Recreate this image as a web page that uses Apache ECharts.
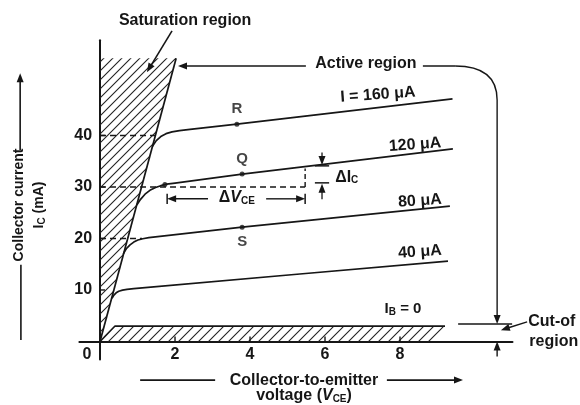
<!DOCTYPE html>
<html><head><meta charset="utf-8">
<script src="https://cdn.jsdelivr.net/npm/echarts@6/dist/echarts.min.js"></script>
<style>html,body{margin:0;padding:0;background:#fff}#c{width:580px;height:405px}</style>
</head><body><div id="c"></div>
<script>
// ---------- data (VCE in volts, IC in mA) ----------
const xTicks = [2, 4, 6, 8];
const yTicks = [10, 20, 30, 40];
const originLabel = '0';
const ib160 = [[1.39,37.8],[1.5,39.0],[1.62,39.8],[1.76,40.35],[1.92,40.7],[2.12,40.95],[2.4,41.2],[3.65,42.2],[9.4,47.1]];
const ib120 = [[0.98,26.5],[1.08,27.6],[1.2,28.6],[1.33,29.35],[1.48,29.9],[1.62,30.25],[1.78,30.55],[2.0,30.75],[3.79,32.5],[9.41,37.4]];
const ib80  = [[0.62,17.0],[0.7,18.0],[0.8,18.75],[0.9,19.3],[1.01,19.7],[1.14,19.95],[1.3,20.15],[3.79,22.2],[9.33,26.3]];
const ib40  = [[0.32,8.4],[0.37,9.0],[0.43,9.45],[0.5,9.75],[0.6,9.97],[0.72,10.1],[0.9,10.25],[5.33,13.1],[9.28,15.6]];
const curveNames = ['I = 160 μA', '120 μA', '80 μA', '40 μA', 'I{s|B} = 0'];
const opPoints = [['R',3.65,42.2],['Q',3.79,32.5],['S',3.79,22.2]];
const kneePoint = [[1.73,30.5]];
const satBoundary = [[0,0],[2.03,55]];
const satRegion = [[0,0],[0,55],[2.03,55]];
const cutoffLevel = 3.0;
const cutoffRegion = [[0,0],[0.4,3.0],[9.2,3.0],[8.9,0]];
const dashLevels = [[40,1.5],[30,5.47],[20,1.12]];
const dVce = [1.79, 5.47, 27.7];      // from, to, at IC
const dIc = [30.8, 34.1, 5.92];       // low, high, at VCE

// ---------- styles ----------
const ink = '#161616';
const F = '"Liberation Sans", Arial, sans-serif';
const RICH = {
  s: {fontSize: 10, fontWeight: 'bold', fontFamily: F, fill: ink, padding: [7,0,0,0]},
  i: {fontSize: 16, fontWeight: 'bold', fontStyle: 'italic', fontFamily: F, fill: ink}
};
function hatch(step){
  const cv = document.createElement('canvas');
  cv.width = cv.height = step;
  const g = cv.getContext('2d');
  g.strokeStyle = '#222'; g.lineWidth = 1.1;
  g.beginPath();
  g.moveTo(0, step); g.lineTo(step, 0);
  g.moveTo(-step/2, step/2); g.lineTo(step/2, -step/2);
  g.moveTo(step/2, step*1.5); g.lineTo(step*1.5, step/2);
  g.stroke();
  return {image: cv, repeat: 'repeat'};
}
const HATCH = hatch(9);
const HATCH2 = hatch(10);

function renderAnno(params, api){
  const c = p => api.coord(p);
  const kids = [];
  const poly = (pts, fill) => kids.push({type:'polygon', shape:{points: pts.map(c)}, style:{fill: fill, stroke: null}});
  const seg = (p, q, w, dash) => kids.push({type:'line', shape:{x1:p[0],y1:p[1],x2:q[0],y2:q[1]}, style:{stroke:ink, lineWidth:w||1.5, lineDash:dash||null}});
  const line = (a, b, w, dash) => seg(c(a), c(b), w, dash);
  const arrow = (a, b, w) => {
    const p=c(a), q=c(b); const dx=q[0]-p[0], dy=q[1]-p[1]; const L=Math.hypot(dx,dy); const ux=dx/L, uy=dy/L;
    const hl=9, hw=3.5; const bx=q[0]-ux*hl, by=q[1]-uy*hl;
    seg(p, [bx+ux, by+uy], w);
    kids.push({type:'polygon', shape:{points:[[q[0],q[1]],[bx-uy*hw,by+ux*hw],[bx+uy*hw,by-ux*hw]]}, style:{fill:ink}});
  };
  const bar = (x, y, h) => { line([x, y-h], [x, y+h], 1.5); };
  const text = (t, p, o) => { o = o||{}; const q=c(p); kids.push({type:'text', x:q[0], y:q[1], rotation:o.rot||0,
    style:{text:t, fill:ink, fontSize:o.size||16, fontWeight:'bold', fontFamily:F, align:o.align||'center', verticalAlign:'middle', rich:RICH}}); };

  // hatched regions
  poly(satRegion, HATCH);
  poly(cutoffRegion, HATCH2);

  // axis ticks and tick labels
  xTicks.forEach(t => { const p=c([t,0]); seg(p, [p[0], p[1]-5], 1.4); text(String(t), [t, -2.6]); });
  yTicks.forEach(t => { const p=c([0,t]); seg(p, [p[0]+5, p[1]], 1.4); text(String(t), [-0.21, t], {align:'right'}); });
  text(originLabel, [-0.35, -2.6]);

  // dashed guide lines
  dashLevels.forEach(d => line([0, d[0]], [d[1], d[0]], 1.4, [6,4]));
  line([dVce[1], 30], [dVce[1], 33.6], 1.4, [5,3]);

  // saturation label + arrow
  text('Saturation region', [2.27, 62.4]);
  arrow([1.92, 60.3], [1.25, 52.3], 1.6);

  // active region label + arrows
  text('Active region', [7.09, 53.9]);
  arrow([5.49, 53.5], [2.08, 53.5], 1.4);
  { const a=c([8.61,53.5]), b=c([9.47,53.5]), k=c([10.59,53.5]), d=c([10.59,46.9]);
    seg(a, b, 1.4);
    kids.push({type:'bezierCurve', shape:{x1:b[0],y1:b[1],cpx1:k[0],cpy1:k[1],x2:d[0],y2:d[1]}, style:{stroke:ink,lineWidth:1.4,fill:null}}); }
  arrow([10.59, 46.9], [10.59, cutoffLevel + 0.4], 1.4);

  // cut-off marker
  line([9.55, cutoffLevel + 0.4], [10.99, cutoffLevel + 0.4], 1.4);
  arrow([10.59, -2.9], [10.59, 0], 1.4);
  arrow([11.39, 3.8], [10.69, 2.2], 1.4);
  text('Cut-of', [11.42, 3.8], {align:'left'});
  text('region', [11.45, 0.0], {align:'left'});

  // ΔVCE
  arrow([2.88, dVce[2]], [dVce[0], dVce[2]], 1.4);
  arrow([4.43, dVce[2]], [dVce[1], dVce[2]], 1.4);
  bar(dVce[0], dVce[2], 1.0); bar(dVce[1], dVce[2], 1.0);
  text('Δ{i|V}{s|CE}', [3.65, 27.9]);

  // ΔIC
  arrow([dIc[2], 36.7], [dIc[2], dIc[1] + 0.15], 1.3);
  arrow([dIc[2], 27.6], [dIc[2], dIc[0] - 0.15], 1.3);
  line([5.73, dIc[1]], [6.11, dIc[1]], 1.5);
  line([5.73, dIc[0]], [6.11, dIc[0]], 1.5);
  text('ΔI{s|C}', [6.27, 31.9], {align:'left'});

  // curve labels
  const rot = 0.07;
  text(curveNames[0], [7.41, 47.9], {rot});
  text(curveNames[1], [8.40, 38.2], {rot});
  text(curveNames[2], [8.53, 27.3], {rot});
  text(curveNames[3], [8.53, 17.4], {rot});
  text(curveNames[4], [8.08, 6.3], {size:15});

  // y-axis title
  [['Collector current', -2.16], ['I{s|C} (mA)', -1.63]].forEach(tt => { const q=c([tt[1], 26.5]);
    kids.push({type:'text', x:q[0], y:q[1], rotation:Math.PI/2,
      style:{text:tt[0], fill:ink, fontSize:14, fontWeight:'bold', fontFamily:F, align:'center', verticalAlign:'middle', rich:RICH}}); });
  arrow([-2.13, 37.2], [-2.13, 52.1], 1.6);
  line([-2.11, 14.9], [-2.11, 0.3], 1.6);

  // x-axis title
  text('Collector-to-emitter', [5.44, -7.5]);
  text('voltage ({i|V}{s|CE})', [5.44, -10.6]);
  line([1.07, -7.5], [3.07, -7.5], 1.6);
  arrow([7.65, -7.5], [9.68, -7.5], 1.6);

  return {type:'group', children:kids};
}

const curveSeries = [ib160, ib120, ib80, ib40].map(d => ({
  type:'line', data:d, showSymbol:false, smooth:false,
  lineStyle:{color:ink, width:1.7, join:'round'}, silent:true, z:3
}));

const chart = echarts.init(document.getElementById('c'), null, {renderer:'canvas'});
chart.setOption({
  animation:false,
  backgroundColor:'#fff',
  grid:{left:79.4, right:67.5, top:40.2, bottom:45.5, outerBoundsMode:'none'},
  xAxis:{type:'value', min:-0.55, max:11,
    axisLine:{onZero:true, lineStyle:{color:ink, width:2}},
    splitLine:{show:false}, axisTick:{show:false}, axisLabel:{show:false}},
  yAxis:{type:'value', min:-3.5, max:58.5,
    axisLine:{onZero:true, lineStyle:{color:ink, width:2}},
    splitLine:{show:false}, axisTick:{show:false}, axisLabel:{show:false}},
  series:[
    {type:'custom', renderItem:renderAnno, data:[[0,0]], clip:false, silent:true, z:2},
    {type:'line', data:satBoundary, showSymbol:false, lineStyle:{color:ink, width:1.7}, silent:true, z:3},
    {type:'line', data:[cutoffRegion[0], cutoffRegion[1], cutoffRegion[2]], showSymbol:false, lineStyle:{color:ink, width:1.7}, silent:true, z:3},
    ...curveSeries,
    {type:'scatter', data:opPoints.map(p => ({name:p[0], value:[p[1], p[2]],
        label:{show:true, formatter:'{b}', position: p[0]==='S' ? 'bottom' : 'top', distance:5, color:ink, fontSize:15, fontWeight:'bold', fontFamily:F}})),
      symbolSize:5, itemStyle:{color:ink}, silent:true, z:4},
    {type:'scatter', data:kneePoint, symbolSize:5, itemStyle:{color:ink}, silent:true, z:4}
  ]
});
</script></body></html>
